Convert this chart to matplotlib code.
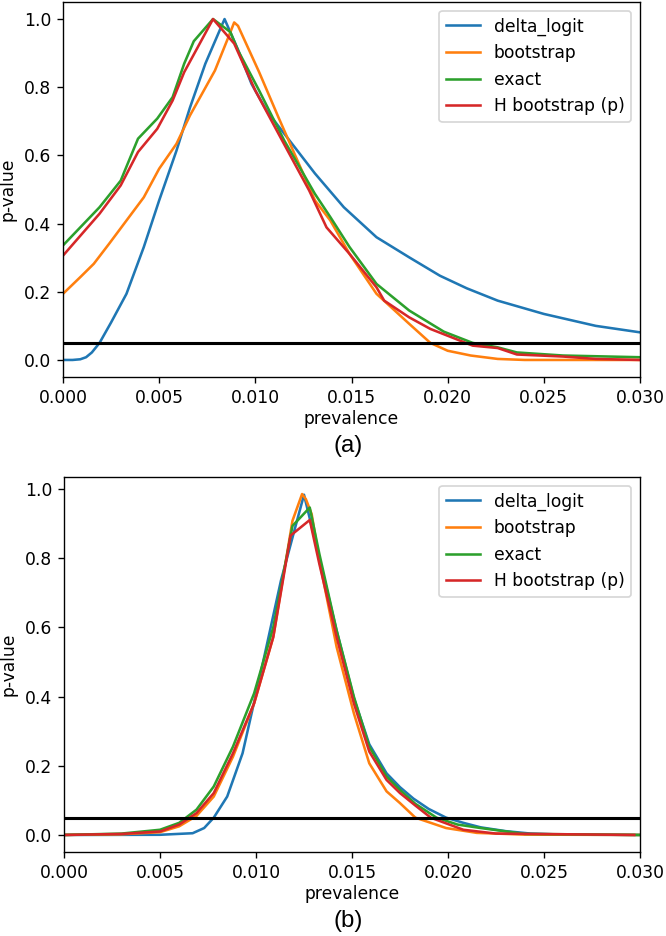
import matplotlib
matplotlib.use("Agg")
import matplotlib.pyplot as plt

# p-value curves, panel (a)
x_delta_a = [0, 0.0005, 0.0009, 0.0012, 0.0015, 0.0019, 0.0025, 0.0033, 0.0042, 0.0050, 0.0059, 0.0066,
             0.0074, 0.0084, 0.0091, 0.0098, 0.0106, 0.0115, 0.0131, 0.0146, 0.0163, 0.0180, 0.0196,
             0.0210, 0.0226, 0.0250, 0.0277, 0.0300]
y_delta_a = [0, 0, 0.002, 0.008, 0.022, 0.05, 0.11, 0.194, 0.331, 0.468, 0.614, 0.74,
             0.869, 1.0, 0.91, 0.81, 0.73, 0.664, 0.547, 0.448, 0.36, 0.301, 0.247,
             0.21, 0.174, 0.135, 0.10, 0.081]

x_boot_a = [0, 0.0009, 0.0016, 0.0024, 0.0033, 0.0042, 0.0050, 0.0059, 0.0066, 0.0079, 0.0086, 0.0089,
            0.0091, 0.0102, 0.0112, 0.0131, 0.0139, 0.0149, 0.0163, 0.0180, 0.0191, 0.0200, 0.0212, 0.0226,
            0.0240, 0.0300]
y_boot_a = [0.194, 0.243, 0.282, 0.341, 0.409, 0.477, 0.561, 0.634, 0.717, 0.849, 0.947, 0.99,
            0.98, 0.844, 0.712, 0.468, 0.409, 0.311, 0.194, 0.106, 0.05, 0.027, 0.013, 0.003,
            0.0, 0.0]

x_exact_a = [0, 0.0019, 0.0030, 0.0039, 0.0049, 0.0057, 0.0063, 0.0068, 0.0078, 0.0087, 0.0091, 0.0102,
             0.0115, 0.0131, 0.0139, 0.0149, 0.0163, 0.0180, 0.0198, 0.0213, 0.0226, 0.0236, 0.0260, 0.0300]
y_exact_a = [0.336, 0.448, 0.526, 0.649, 0.708, 0.771, 0.869, 0.935, 1.0, 0.962, 0.908, 0.79,
             0.644, 0.487, 0.419, 0.331, 0.223, 0.145, 0.083, 0.05, 0.037, 0.022, 0.013, 0.008]

x_hboot_a = [0, 0.0019, 0.0030, 0.0039, 0.0049, 0.0057, 0.0063, 0.0078, 0.0089, 0.0100, 0.0112, 0.0128,
             0.0137, 0.0149, 0.0163, 0.0167, 0.0180, 0.0191, 0.0200, 0.0213, 0.0226, 0.0236, 0.0260,
             0.0277, 0.0300]
y_hboot_a = [0.306, 0.429, 0.512, 0.61, 0.678, 0.761, 0.844, 1.0, 0.928, 0.79, 0.664, 0.497,
             0.389, 0.311, 0.213, 0.174, 0.125, 0.091, 0.071, 0.042, 0.035, 0.016, 0.01,
             0.003, 0.0]

# panel (b)
x_delta_b = [0, 0.005, 0.0067, 0.0073, 0.0078, 0.0085, 0.0093, 0.0102, 0.0113, 0.0120, 0.0125, 0.0133,
             0.0142, 0.0151, 0.0159, 0.0168, 0.0175, 0.0182, 0.0190, 0.0199, 0.0208, 0.0217, 0.0230,
             0.0243, 0.0260, 0.0300]
y_delta_b = [0, 0.0005, 0.005, 0.02, 0.05, 0.111, 0.236, 0.457, 0.735, 0.88, 0.983, 0.80,
             0.59, 0.395, 0.262, 0.178, 0.138, 0.105, 0.075, 0.05, 0.035, 0.022, 0.011,
             0.004, 0.001, 0.0]

x_boot_b = [0, 0.0030, 0.0050, 0.0060, 0.0069, 0.0078, 0.0088, 0.0099, 0.0109, 0.0119, 0.0124, 0.0126,
            0.0129, 0.0133, 0.0142, 0.0151, 0.0159, 0.0168, 0.0175, 0.0183, 0.0199, 0.0215, 0.0240, 0.0300]
y_boot_b = [0, 0.002, 0.008, 0.025, 0.055, 0.111, 0.226, 0.38, 0.572, 0.908, 0.985, 0.97,
            0.927, 0.793, 0.543, 0.351, 0.207, 0.126, 0.092, 0.05, 0.02, 0.006, 0.001, 0.0]

x_exact_b = [0, 0.0030, 0.0050, 0.0060, 0.0069, 0.0078, 0.0088, 0.0099, 0.0109, 0.0119, 0.0128, 0.0133,
             0.0142, 0.0151, 0.0159, 0.0168, 0.0175, 0.0183, 0.0194, 0.0205, 0.0217, 0.0240, 0.0300]
y_exact_b = [0, 0.004, 0.015, 0.035, 0.073, 0.14, 0.255, 0.409, 0.6, 0.893, 0.946, 0.812,
             0.591, 0.399, 0.255, 0.169, 0.13, 0.09, 0.05, 0.03, 0.02, 0.003, 0.0]

x_hboot_b = [0, 0.0030, 0.0050, 0.0060, 0.0069, 0.0078, 0.0088, 0.0099, 0.0109, 0.0118, 0.0128, 0.0133,
             0.0142, 0.0151, 0.0159, 0.0168, 0.0175, 0.0183, 0.0191, 0.0208, 0.0225, 0.0297]
y_hboot_b = [0, 0.003, 0.01, 0.03, 0.063, 0.121, 0.236, 0.38, 0.572, 0.865, 0.91, 0.783,
             0.572, 0.38, 0.241, 0.159, 0.121, 0.085, 0.05, 0.015, 0.004, 0.0]

labels = ["delta_logit", "bootstrap", "exact", "H bootstrap (p)"]
alpha = 0.05

panels = [
    ([x_delta_a, x_boot_a, x_exact_a, x_hboot_a], [y_delta_a, y_boot_a, y_exact_a, y_hboot_a], "(a)"),
    ([x_delta_b, x_boot_b, x_exact_b, x_hboot_b], [y_delta_b, y_boot_b, y_exact_b, y_hboot_b], "(b)"),
]

W, H = 666, 936
dpi = 123
fig = plt.figure(figsize=(W / dpi, H / dpi), dpi=dpi)

# axes boxes in pixels: left, top, right, bottom
boxes = [(63, 2, 640, 377), (64, 477, 640, 852)]
caption_y = [446, 921]

for (xs, ys, cap), (l, t, r, b), cy in zip(panels, boxes, caption_y):
    ax = fig.add_axes([l / W, 1 - b / H, (r - l) / W, (b - t) / H])
    for x, y, lab in zip(xs, ys, labels):
        ax.plot(x, y, label=lab)
    ax.axhline(alpha, color="black", lw=1.8)
    ax.set_xlim(0, 0.03)
    ax.set_xlabel("prevalence", labelpad=2)
    ax.set_ylabel("p-value")
    ax.legend(loc="upper right")
    fig.text(348 / W, 1 - cy / H, cap, ha="center", va="center",
             fontsize=14, family="Liberation Sans")

fig.savefig("out.png", dpi=dpi)
